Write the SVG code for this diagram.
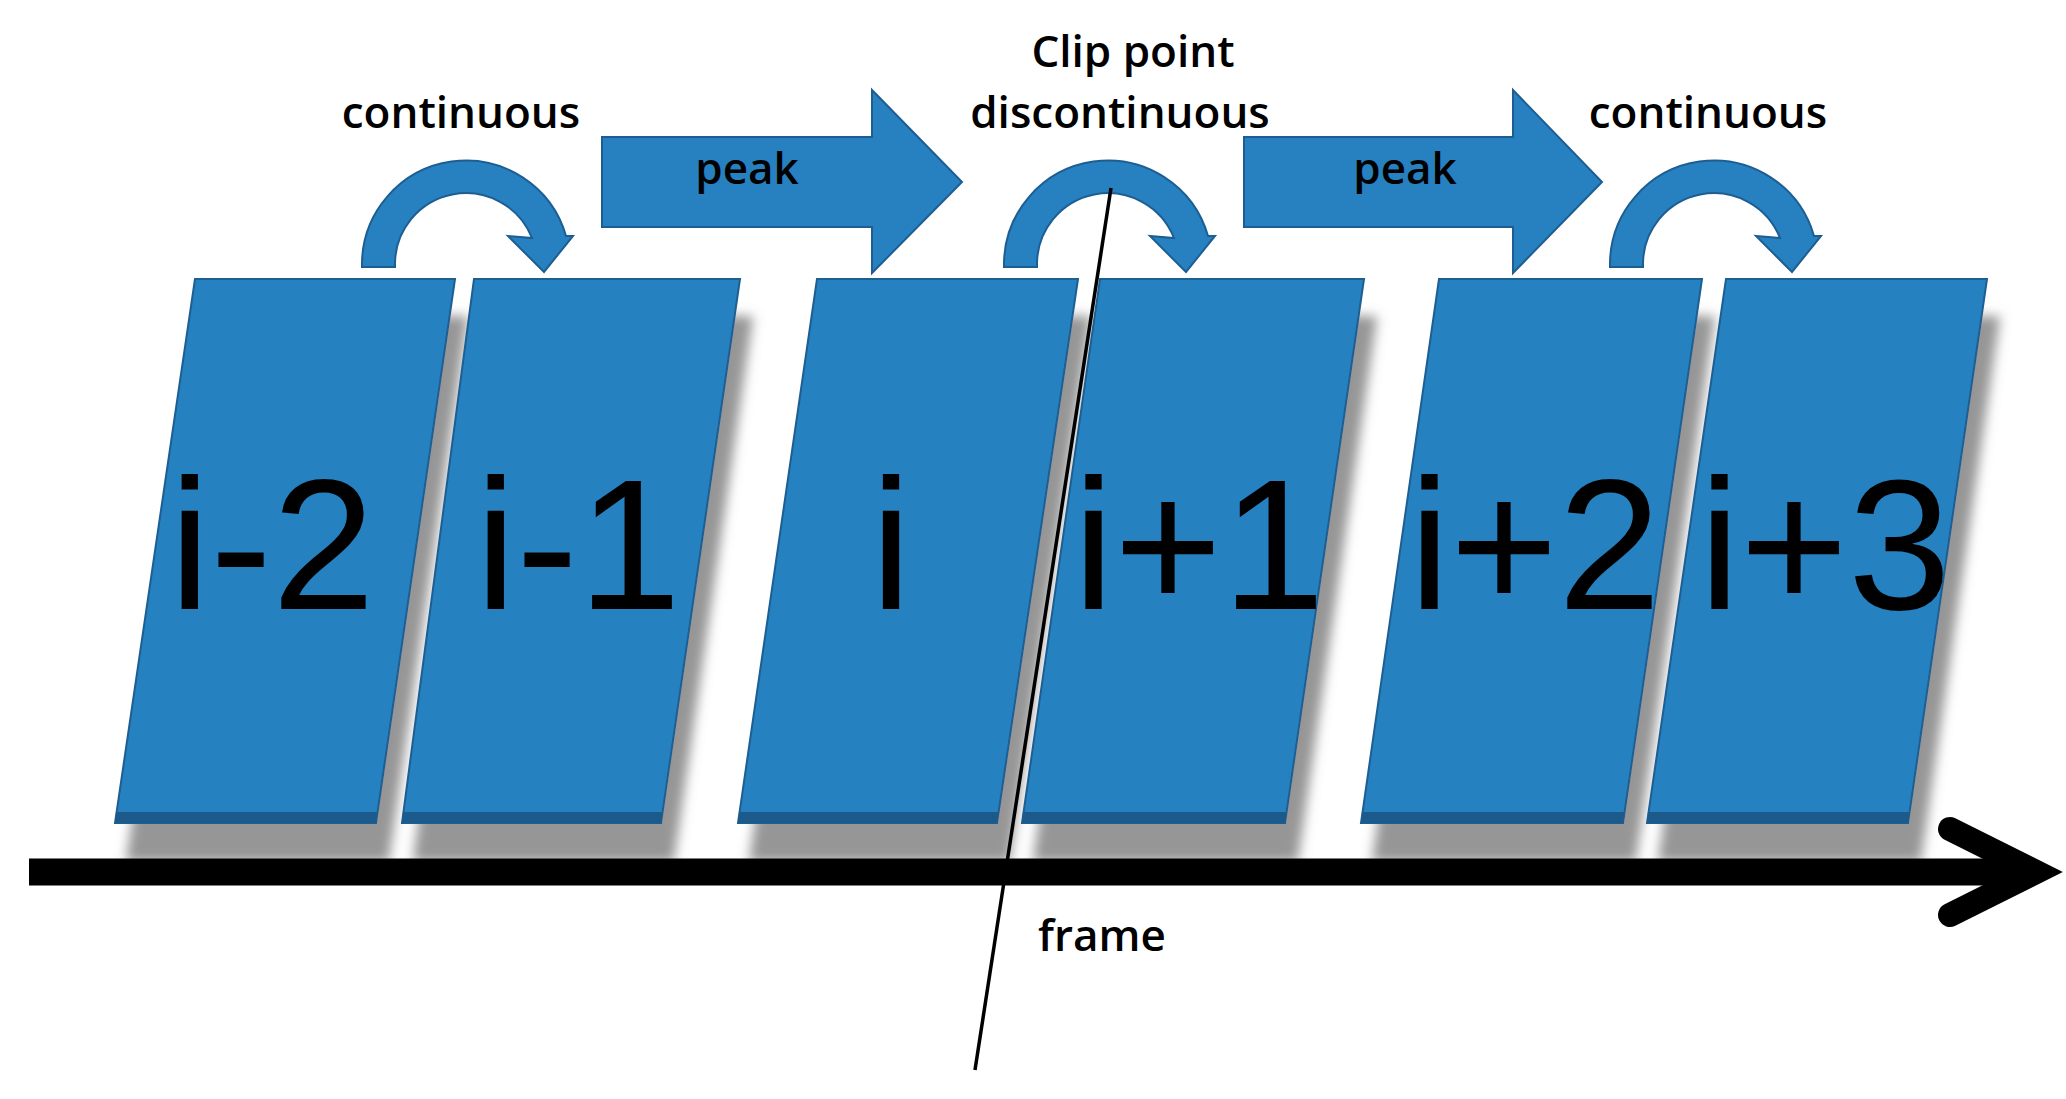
<svg xmlns="http://www.w3.org/2000/svg" width="2066" height="1099" viewBox="0 0 2066 1099">
<style>
.blk{fill:#2781c1;stroke:#1d5e92;stroke-width:2}
.big{font-family:"Liberation Sans",Arial,sans-serif;font-size:185px;fill:#000;text-anchor:middle}
.lbl{font-family:"Open Sans","Liberation Sans",sans-serif;font-weight:600;font-size:44px;fill:#000;text-anchor:middle}
.band{fill:#1b5a8c}
</style>
<defs>
<filter id="sh" x="-20%" y="-20%" width="150%" height="150%">
<feDropShadow dx="12" dy="38" stdDeviation="6" flood-color="#8a8a8a" flood-opacity="0.9"/>
</filter>
<path id="curv" d="M362 267 L362 265 A104 104 0 0 1 566 236 L573 236 L544 272 L508 236 L532 238 A71 71 0 0 0 395 265 L395 267 Z"/>
</defs>
<rect width="2066" height="1099" fill="#fff"/>
<g id="frames">
<g id="f-i-2" filter="url(#sh)"><polygon class="blk" points="195,279 455,279 376,823 115,823"/><polygon class="band" points="116,812 377,812 376,823 115,823"/><text class="big" x="272" y="609">i-2</text></g>
<g id="f-i-1" filter="url(#sh)"><polygon class="blk" points="474,279 740,279 661,823 402,823"/><polygon class="band" points="403,812 663,812 661,823 402,823"/><text class="big" x="578" y="609">i-1</text></g>
<g id="f-i" filter="url(#sh)"><polygon class="blk" points="817,279 1078,279 997,823 738,823"/><polygon class="band" points="739,812 999,812 997,823 738,823"/><text class="big" x="891" y="609">i</text></g>
<g id="f-i+1" filter="url(#sh)"><polygon class="blk" points="1100,279 1364,279 1285,823 1022,823"/><polygon class="band" points="1023,812 1287,812 1285,823 1022,823"/><text class="big" x="1199" y="609">i+1</text></g>
<g id="f-i+2" filter="url(#sh)"><polygon class="blk" points="1439,279 1702,279 1623,823 1361,823"/><polygon class="band" points="1362,812 1625,812 1623,823 1361,823"/><text class="big" x="1535" y="609">i+2</text></g>
<g id="f-i+3" filter="url(#sh)"><polygon class="blk" points="1726,279 1987,279 1908,823 1647,823"/><polygon class="band" points="1648,812 1910,812 1908,823 1647,823"/><text class="big" x="1825" y="609">i+3</text></g>
</g>
<g id="connectors">
<use href="#curv" class="blk"/>
<use href="#curv" class="blk" transform="translate(642,0)"/>
<use href="#curv" class="blk" transform="translate(1248,0)"/>
<polygon class="blk" points="602,137 872,137 872,90 962,182 872,273 872,227 602,227"/>
<polygon class="blk" points="1244,137 1513,137 1513,90 1602,182 1513,273 1513,227 1244,227"/>
<line x1="29" y1="872" x2="2020" y2="872" stroke="#000" stroke-width="27"/>
<polyline points="1950,829 2036,872 1950,915" fill="none" stroke="#000" stroke-width="24" stroke-linecap="round" stroke-linejoin="miter"/>
<line x1="1111" y1="188" x2="975" y2="1070" stroke="#000" stroke-width="3.5"/>
</g>
<g id="labels">
<text class="lbl" x="461" y="128">continuous</text>
<text class="lbl" x="1133" y="67">Clip point</text>
<text class="lbl" x="1120" y="128">discontinuous</text>
<text class="lbl" x="1708" y="128">continuous</text>
<text class="lbl" x="747" y="184">peak</text>
<text class="lbl" x="1405" y="184">peak</text>
<text class="lbl" x="1102" y="951">frame</text>
</g>
</svg>
